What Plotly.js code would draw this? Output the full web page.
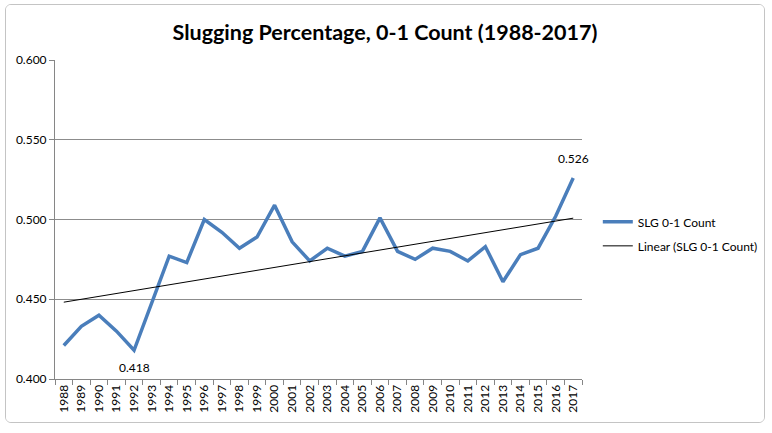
<!DOCTYPE html>
<html>
<head>
<meta charset="utf-8">
<script src="https://cdn.plot.ly/plotly-3.0.1.min.js"></script>
<style>
  body { margin: 0; background: #ffffff; width: 772px; height: 433px; overflow: hidden; }
  #frame { position: absolute; left: 5px; top: 4px; width: 758px; height: 417px;
           border: 1px solid #c4c4c4; border-radius: 6px; overflow: hidden; background: #fff; }
</style>
</head>
<body>
<div id="frame"><div id="chart"></div></div>
<script>
// 年 (categories)
const years = ['1988','1989','1990','1991','1992','1993','1994','1995','1996','1997',
               '1998','1999','2000','2001','2002','2003','2004','2005','2006','2007',
               '2008','2009','2010','2011','2012','2013','2014','2015','2016','2017'];
// SLG on 0-1 counts
const slg = [0.421, 0.433, 0.440, 0.430, 0.418, 0.448, 0.477, 0.473, 0.500, 0.492,
             0.482, 0.489, 0.509, 0.486, 0.474, 0.482, 0.477, 0.480, 0.501, 0.480,
             0.475, 0.482, 0.480, 0.474, 0.483, 0.461, 0.478, 0.482, 0.502, 0.526];
const yTicks = [0.400, 0.450, 0.500, 0.550, 0.600];
const labelled = [4, 29]; // points with a data label (1992, 2017)

// least squares trend line (Excel "Linear" trendline)
const n = slg.length;
let sx = 0, sy = 0, sxy = 0, sxx = 0;
slg.forEach((v, i) => { sx += i; sy += v; sxy += i * v; sxx += i * i; });
const slope = (n * sxy - sx * sy) / (n * sxx - sx * sx);
const icpt = (sy - slope * sx) / n;
const trend = slg.map((v, i) => icpt + slope * i);

const FONT = 'Lato, "Open Sans", sans-serif';

const data = [
  {
    x: years, y: slg, mode: 'lines', name: 'SLG 0-1 Count', legendgroup: 'a',
    line: { color: '#4a7ebb', width: 3.5 },
  },
  {
    x: years, y: trend, mode: 'lines', name: 'Linear (SLG 0-1 Count)', legendgroup: 'b',
    line: { color: '#000000', width: 1 },
  }
];

// category index is used for x, a numeric-looking string would be read as an index
const annotations = labelled.map((i, k) => ({
  x: i, y: slg[i], xref: 'x', yref: 'y', text: slg[i].toFixed(3), showarrow: false,
  yshift: k === 0 ? -17 : 20,
  font: { family: FONT, size: 12, color: '#000' }
}));

const layout = {
  width: 758, height: 417,
  margin: { l: 49, r: 182, t: 55, b: 43, pad: 0, autoexpand: false },
  paper_bgcolor: '#ffffff', plot_bgcolor: '#ffffff',
  font: { family: FONT, size: 12, color: '#000' },
  title: {
    text: '<b>Slugging Percentage, 0-1 Count (1988-2017)</b>',
    x: 0.5, xref: 'container', xanchor: 'center', y: 0.935, yref: 'container', yanchor: 'middle',
    font: { family: FONT, size: 21.5, color: '#000' }
  },
  xaxis: {
    type: 'category', range: [-0.5, 29.5], tickangle: -90,
    showgrid: false, showline: true, linecolor: '#868686', linewidth: 1,
    ticks: 'outside', tickson: 'boundaries', ticklen: 5, tickcolor: '#868686',
    tickfont: { size: 12 }, fixedrange: true
  },
  yaxis: {
    range: [0.4, 0.6], tickvals: yTicks, ticktext: yTicks.map(v => v.toFixed(3)),
    showgrid: true, gridcolor: '#8c8c8c', gridwidth: 1,
    showline: true, linecolor: '#868686', linewidth: 1,
    ticks: 'outside', ticklen: 5, tickcolor: '#868686', zeroline: false,
    tickfont: { size: 12 }, fixedrange: true
  },
  legend: {
    x: 1.03, xanchor: 'left', y: 0.455, yanchor: 'middle',
    font: { size: 12 }, itemwidth: 30, bgcolor: 'rgba(0,0,0,0)',
    traceorder: 'grouped', tracegroupgap: 5
  },
  annotations: annotations,
  showlegend: true
};

Plotly.newPlot('chart', data, layout, { staticPlot: true, displayModeBar: false });
</script>
</body>
</html>
